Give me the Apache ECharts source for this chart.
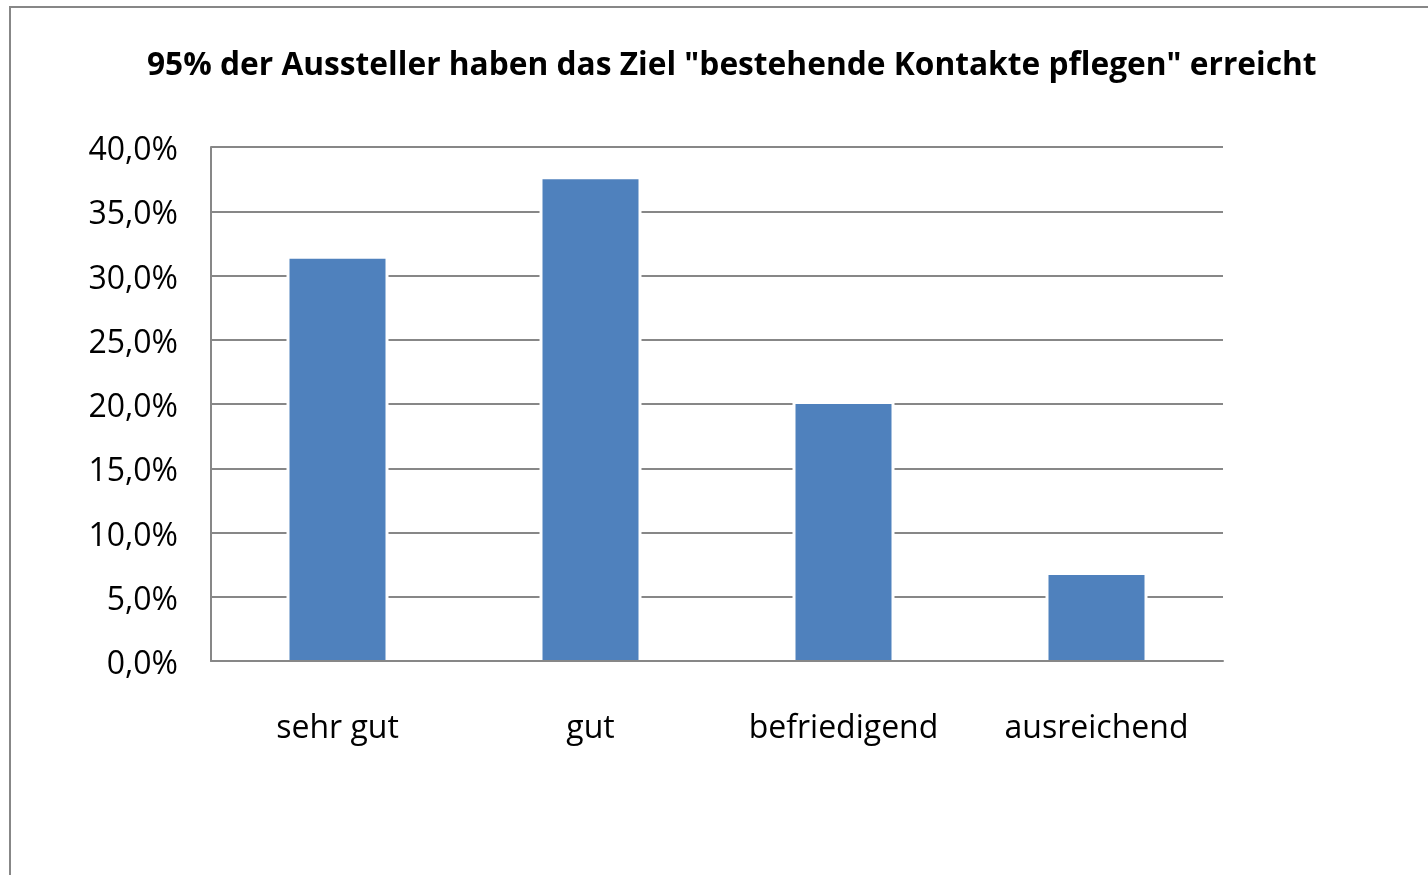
<!DOCTYPE html>
<html>
<head>
<meta charset="utf-8">
<script src="https://cdn.jsdelivr.net/npm/echarts@6/dist/echarts.min.js"></script>
<style>
    html, body { margin: 0; padding: 0; background: #fff; }
    #chart { width: 1428px; height: 875px; }
</style>
</head>
<body>
<div id="chart"></div>
<script>
    // Daten
    var titleText = '95% der Aussteller haben das Ziel "bestehende Kontakte pflegen" erreicht';
    var categories = ['sehr gut', 'gut', 'befriedigend', 'ausreichend'];
    var values = [31.3, 37.5, 20.0, 6.7];
    var yMin = 0, yMax = 40, yStep = 5;

    var FONT = 'Open Sans';
    var GRAY = '#878787';
    var BLUE = '#4f81bd';

    var chart = echarts.init(document.getElementById('chart'));

    // Balken mit weissem Rand (unterbricht die Gitterlinien), unten bündig an der Achse
    function renderBar(params, api) {
        var top = api.coord([api.value(0), api.value(1)]);
        var base = api.coord([api.value(0), 0]);
        var h = base[1] - top[1];
        return {
            type: 'group',
            children: [
                { type: 'rect', shape: { x: top[0] - 51, y: top[1] - 2, width: 102, height: h + 2 }, style: { fill: '#fff' } },
                { type: 'rect', shape: { x: top[0] - 48, y: top[1], width: 96, height: h }, style: { fill: BLUE } }
            ]
        };
    }

    var option = {
        backgroundColor: '#fff',
        animation: false,
        title: {
            text: titleText,
            left: 142,
            top: 45,
            textStyle: { fontFamily: FONT, fontWeight: 'bold', fontSize: 31.7, color: '#000' }
        },
        // Rahmen um das Diagramm
        graphic: [{
            type: 'rect',
            shape: { x: 10, y: 7, width: 1440, height: 900 },
            style: { fill: null, stroke: GRAY, lineWidth: 2 },
            silent: true
        }],
        grid: { left: 211, right: 205, top: 147, bottom: 214 },
        xAxis: {
            type: 'category',
            data: categories,
            z: 5,
            axisLine: { lineStyle: { color: GRAY, width: 2 } },
            axisTick: { show: false },
            axisLabel: { fontFamily: FONT, fontSize: 32, color: '#000', margin: 52 }
        },
        yAxis: {
            type: 'value',
            min: yMin,
            max: yMax,
            interval: yStep,
            axisLine: { show: true, lineStyle: { color: GRAY, width: 2 } },
            axisTick: { show: false },
            splitLine: { lineStyle: { color: GRAY, width: 2 } },
            axisLabel: {
                fontFamily: FONT, fontSize: 32, color: '#000', margin: 33,
                formatter: function (v) { return '{p|' + v.toFixed(1).replace('.', ',') + '%}'; },
                rich: {
                    p: { fontFamily: FONT, fontSize: 32, color: '#000', padding: [8, 0, 0, 0] }
                }
            }
        },
        series: [{
            type: 'custom',
            renderItem: renderBar,
            encode: { x: 0, y: 1 },
            data: values.map(function (v, i) { return [i, v]; })
        }]
    };

    chart.setOption(option);
</script>
</body>
</html>
